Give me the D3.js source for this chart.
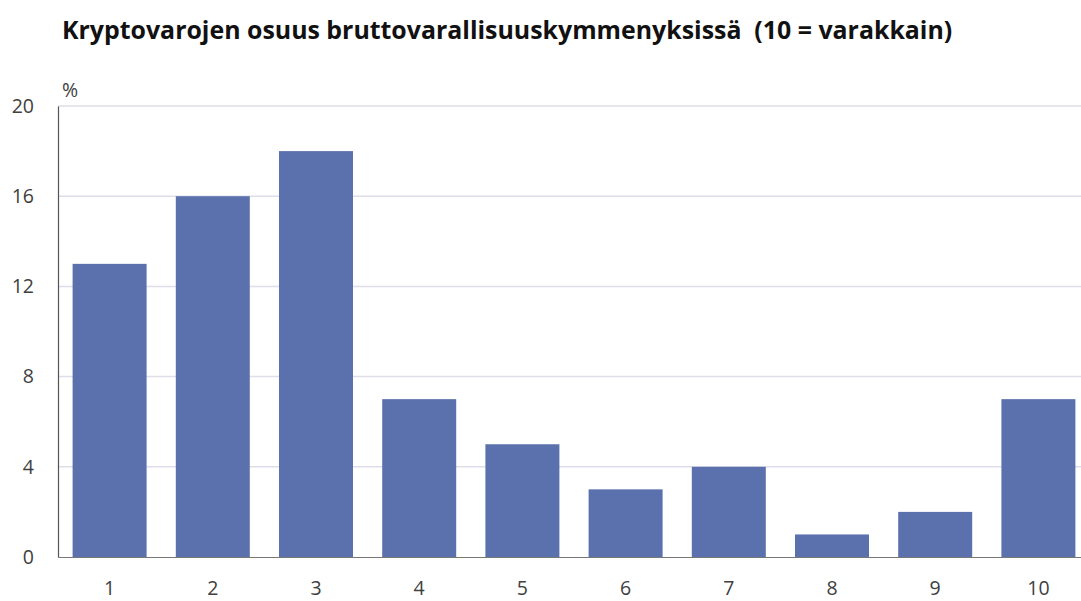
<!DOCTYPE html>
<html>
<head>
<meta charset="utf-8">
<script src="https://cdn.jsdelivr.net/npm/d3@7"></script>
<style>
  body { margin: 0; background: #fff; }
  text { font-family: "Open Sans", "Noto Sans", sans-serif; }
</style>
</head>
<body>
<script>
var width = 1081;
var height = 601;

var deciles = ["1", "2", "3", "4", "5", "6", "7", "8", "9", "10"];
var shares = [13, 16, 18, 7, 5, 3, 4, 1, 2, 7];
var yTicks = [0, 4, 8, 12, 16, 20];

var plotLeft = 58, plotRight = 1090, plotTop = 106, plotBottom = 557;

var svg = d3.select("body")
    .append("svg")
        .attr("width", width)
        .attr("height", height);

var x = d3.scaleBand()
    .domain(deciles)
    .range([plotLeft, plotRight])
    .paddingInner(0.283)
    .paddingOuter(0.1415);

var y = d3.scaleLinear()
    .domain([0, 20])
    .range([plotBottom, plotTop]);

// title
svg.append("text")
    .attr("x", 62)
    .attr("y", 39)
    .attr("font-size", 24.9)
    .attr("font-weight", "bold")
    .attr("fill", "#111")
    .attr("xml:space", "preserve")
    .text("Kryptovarojen osuus bruttovarallisuuskymmenyksissä  (10 = varakkain)");

// gridlines
svg.append("g")
    .selectAll("line")
    .data(yTicks.filter(function (d) { return d > 0; }))
    .join("line")
        .attr("x1", plotLeft)
        .attr("x2", width)
        .attr("y1", function (d) { return y(d); })
        .attr("y2", function (d) { return y(d); })
        .attr("stroke", "#dedde9")
        .attr("stroke-width", 1.5);

// bars
svg.append("g")
    .selectAll("rect")
    .data(shares)
    .join("rect")
        .attr("x", function (d, i) { return x(deciles[i]); })
        .attr("y", function (d) { return y(d); })
        .attr("width", x.bandwidth())
        .attr("height", function (d) { return y(0) - y(d); })
        .attr("fill", "#5b71ad");

// y axis
var yAxis = svg.append("g")
    .attr("transform", "translate(" + plotLeft + ",0)")
    .call(d3.axisLeft(y).tickValues(yTicks).tickSize(0).tickPadding(24));
yAxis.select(".domain").attr("stroke", "#555").attr("stroke-width", 1.2);
yAxis.selectAll("text")
    .attr("font-size", 19.5)
    .attr("fill", "#404040")
    .attr("font-family", "\"Open Sans\", sans-serif");

// x axis
var xAxis = svg.append("g")
    .attr("transform", "translate(0," + plotBottom + ")")
    .call(d3.axisBottom(x).tickSize(0).tickPadding(24));
xAxis.select(".domain").attr("stroke", "#777").attr("stroke-width", 1.2);
xAxis.selectAll("text")
    .attr("font-size", 19.5)
    .attr("fill", "#404040")
    .attr("font-family", "\"Open Sans\", sans-serif");

// unit label
svg.append("text")
    .attr("x", 62)
    .attr("y", 97)
    .attr("font-size", 19.5)
    .attr("fill", "#404040")
    .text("%");
</script>
</body>
</html>
